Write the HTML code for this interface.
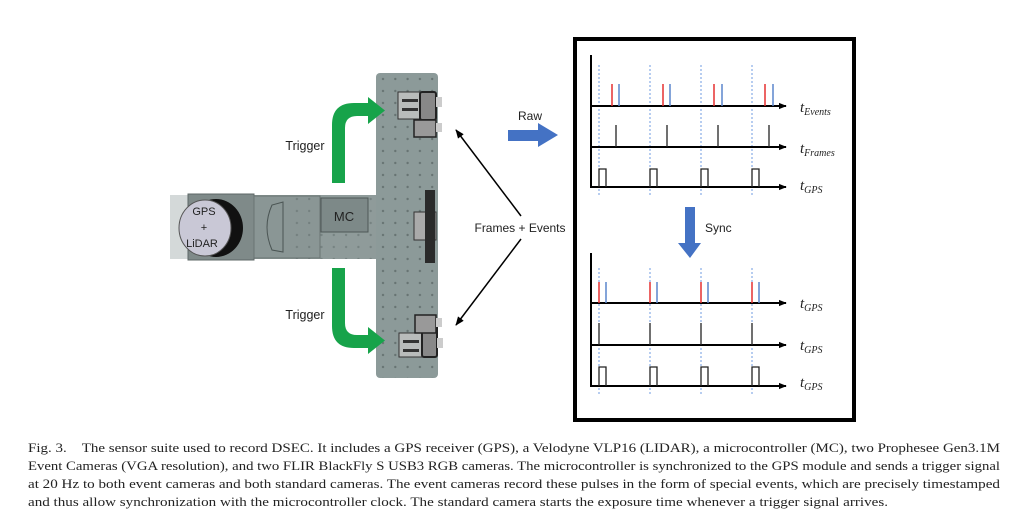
<!DOCTYPE html>
<html><head><meta charset="utf-8"><style>
html,body{margin:0;padding:0;background:#fff;}
svg{display:block;}
</style></head><body>
<svg width="1024" height="532" viewBox="0 0 1024 532" xmlns="http://www.w3.org/2000/svg">
<defs>
<pattern id="holes" x="377" y="73" width="12.3" height="12" patternUnits="userSpaceOnUse">
<circle cx="6" cy="6" r="1.2" fill="#5e6a69"/>
</pattern>
<marker id="ah" viewBox="0 0 10 10" refX="9" refY="5" markerWidth="6" markerHeight="6" orient="auto-start-reverse"><path d="M0,1 L10,5 L0,9 Z" fill="#000"/></marker>
<marker id="ax" viewBox="0 0 10 10" refX="9" refY="5" markerWidth="4" markerHeight="4" orient="auto"><path d="M0,1 L10,5 L0,9 Z" fill="#000"/></marker>
</defs>
<rect width="1024" height="532" fill="#fff"/>

<!-- hardware -->
<rect x="170" y="195" width="210" height="64" fill="#8f9b9a"/>
<rect x="170" y="195" width="20" height="64" fill="#d4d9d9"/>
<rect x="188" y="194" width="66" height="66" fill="#7f8a89" stroke="#5d6766" stroke-width="1"/>
<rect x="254" y="196" width="66" height="62" fill="#8a9695" stroke="#6a7473" stroke-width="1"/>
<path d="M272,205 Q262,227 272,250 L283,252 L283,202 Z" fill="none" stroke="#4a5453" stroke-width="1"/>
<rect x="376" y="73" width="62" height="305" rx="4" fill="#8c9a99"/>
<rect x="376" y="73" width="62" height="305" rx="4" fill="url(#holes)" opacity="0.8"/>
<rect x="290" y="195" width="90" height="64" fill="url(#holes)" opacity="0.5"/>
<rect x="321" y="198" width="47" height="34" fill="#7d8988" stroke="#4e5857" stroke-width="1"/>
<text x="344" y="221" font-family="Liberation Sans, sans-serif" font-size="13" text-anchor="middle" fill="#222">MC</text>
<ellipse cx="216" cy="228" rx="27" ry="29" fill="#111"/>
<ellipse cx="205" cy="228" rx="26" ry="28" fill="#c9c8d6" stroke="#555" stroke-width="1"/>
<text x="204" y="215" font-family="Liberation Sans, sans-serif" font-size="11" text-anchor="middle" fill="#222">GPS</text>
<text x="204" y="231" font-family="Liberation Sans, sans-serif" font-size="11" text-anchor="middle" fill="#222">+</text>
<text x="202" y="247" font-family="Liberation Sans, sans-serif" font-size="11" text-anchor="middle" fill="#222">LiDAR</text>
<!-- cameras -->
<rect x="398" y="92" width="24" height="27" fill="#b9bcbb" stroke="#333" stroke-width="1"/>
<rect x="402" y="99" width="16" height="3" fill="#333"/><rect x="402" y="108" width="16" height="3" fill="#333"/>
<rect x="420" y="92" width="16" height="28" rx="2" fill="#888" stroke="#222" stroke-width="2"/>
<rect x="436" y="97" width="6" height="10" fill="#ccc"/>
<rect x="414" y="120" width="22" height="17" fill="#999" stroke="#222" stroke-width="1.5"/>
<rect x="436" y="123" width="6" height="9" fill="#ccc"/>
<rect x="399" y="333" width="26" height="24" fill="#b9bcbb" stroke="#333" stroke-width="1"/>
<rect x="403" y="340" width="16" height="3" fill="#333"/><rect x="403" y="349" width="16" height="3" fill="#333"/>
<rect x="422" y="325" width="15" height="32" rx="2" fill="#888" stroke="#222" stroke-width="2"/>
<rect x="415" y="315" width="21" height="18" fill="#999" stroke="#222" stroke-width="1.5"/>
<rect x="436" y="318" width="6" height="9" fill="#ccc"/><rect x="437" y="338" width="6" height="10" fill="#ccc"/>
<rect x="414" y="212" width="22" height="28" fill="#aaa" stroke="#333" stroke-width="1"/>
<rect x="425" y="190" width="10" height="73" fill="#2a2a2a"/>

<!-- green arrows -->
<path d="M332,183 V125 Q332,103 354,103 H368 V97 L385,110.5 L368,124 V116 H357 Q345,116 345,128 V183 Z" fill="#17a34a"/>
<path d="M332,268 V326 Q332,348 354,348 H368 V354 L385,340.5 L368,327 V335 H357 Q345,335 345,323 V268 Z" fill="#17a34a"/>
<text x="305" y="150" font-family="Liberation Sans, sans-serif" font-size="12.5" text-anchor="middle" fill="#222">Trigger</text>
<text x="305" y="319" font-family="Liberation Sans, sans-serif" font-size="12.5" text-anchor="middle" fill="#222">Trigger</text>

<!-- frames + events -->
<line x1="521" y1="216" x2="456" y2="130" stroke="#000" stroke-width="1.5" marker-end="url(#ah)"/>
<line x1="521" y1="239" x2="456" y2="325" stroke="#000" stroke-width="1.5" marker-end="url(#ah)"/>
<text x="520" y="232" font-family="Liberation Sans, sans-serif" font-size="12" text-anchor="middle" fill="#222">Frames + Events</text>
<text x="530" y="120" font-family="Liberation Sans, sans-serif" font-size="12" text-anchor="middle" fill="#222">Raw</text>
<path d="M508,130 H538 V123 L558,135 L538,147 V141 H508 Z" fill="#4472c4"/>
<path d="M685,207 H695 V243 H701 L690,258 L678,243 H685 Z" fill="#4472c4"/>
<text x="705" y="232" font-family="Liberation Sans, sans-serif" font-size="12" fill="#222">Sync</text>

<!-- box -->
<rect x="575" y="39" width="279" height="381" fill="none" stroke="#000" stroke-width="4"/>

<g stroke="#6f9be0" stroke-width="1" stroke-dasharray="2,2">
<line x1="599" y1="65" x2="599" y2="195"/><line x1="650" y1="65" x2="650" y2="195"/>
<line x1="701" y1="65" x2="701" y2="195"/><line x1="752" y1="65" x2="752" y2="195"/>
<line x1="599" y1="268" x2="599" y2="396"/><line x1="650" y1="268" x2="650" y2="396"/>
<line x1="701" y1="268" x2="701" y2="396"/><line x1="752" y1="268" x2="752" y2="396"/>
</g>
<g stroke="#000" stroke-width="2">
<line x1="591" y1="55" x2="591" y2="188"/>
<line x1="591" y1="253" x2="591" y2="387"/>
</g>
<g stroke="#000" stroke-width="2" marker-end="url(#ax)">
<line x1="590" y1="106" x2="786" y2="106"/>
<line x1="590" y1="147" x2="786" y2="147"/>
<line x1="590" y1="187" x2="786" y2="187"/>
<line x1="590" y1="303" x2="786" y2="303"/>
<line x1="590" y1="345" x2="786" y2="345"/>
<line x1="590" y1="386" x2="786" y2="386"/>
</g>
<g stroke="#e53030" stroke-width="1.5">
<line x1="612" y1="84" x2="612" y2="106"/><line x1="663" y1="84" x2="663" y2="106"/>
<line x1="714" y1="84" x2="714" y2="106"/><line x1="765" y1="84" x2="765" y2="106"/>
<line x1="599" y1="282" x2="599" y2="303"/><line x1="650" y1="282" x2="650" y2="303"/>
<line x1="701" y1="282" x2="701" y2="303"/><line x1="752" y1="282" x2="752" y2="303"/>
</g>
<g stroke="#5b86cc" stroke-width="1.5">
<line x1="619" y1="84" x2="619" y2="106"/><line x1="670" y1="84" x2="670" y2="106"/>
<line x1="722" y1="84" x2="722" y2="106"/><line x1="773" y1="84" x2="773" y2="106"/>
<line x1="606" y1="282" x2="606" y2="303"/><line x1="657" y1="282" x2="657" y2="303"/>
<line x1="708" y1="282" x2="708" y2="303"/><line x1="759" y1="282" x2="759" y2="303"/>
</g>
<g stroke="#222" stroke-width="1.3" fill="none">
<line x1="616" y1="125" x2="616" y2="147"/><line x1="667" y1="125" x2="667" y2="147"/>
<line x1="718" y1="125" x2="718" y2="147"/><line x1="769" y1="125" x2="769" y2="147"/>
<line x1="599" y1="323" x2="599" y2="345"/><line x1="650" y1="323" x2="650" y2="345"/>
<line x1="701" y1="323" x2="701" y2="345"/><line x1="752" y1="323" x2="752" y2="345"/>
<path d="M599,187 V169 H606 V187 M650,187 V169 H657 V187 M701,187 V169 H708 V187 M752,187 V169 H759 V187"/>
<path d="M599,386 V367 H606 V386 M650,386 V367 H657 V386 M701,386 V367 H708 V386 M752,386 V367 H759 V386"/>
</g>
<g font-family="Liberation Serif, serif" font-style="italic" fill="#222">
<text x="800" y="112" font-size="15">t<tspan font-size="10" dy="3">Events</tspan></text>
<text x="800" y="153" font-size="15">t<tspan font-size="10" dy="3">Frames</tspan></text>
<text x="800" y="190" font-size="15">t<tspan font-size="10" dy="3">GPS</tspan></text>
<text x="800" y="308" font-size="15">t<tspan font-size="10" dy="3">GPS</tspan></text>
<text x="800" y="350" font-size="15">t<tspan font-size="10" dy="3">GPS</tspan></text>
<text x="800" y="387" font-size="15">t<tspan font-size="10" dy="3">GPS</tspan></text>
</g>

<!-- caption -->
<g font-family="Liberation Serif, serif" font-size="13" fill="#222">
<text x="28" y="452" textLength="972" lengthAdjust="spacingAndGlyphs">Fig. 3.&#160;&#160;&#160;&#160;The sensor suite used to record DSEC. It includes a GPS receiver (GPS), a Velodyne VLP16 (LIDAR), a microcontroller (MC), two Prophesee Gen3.1M</text>
<text x="28" y="470" textLength="972" lengthAdjust="spacingAndGlyphs">Event Cameras (VGA resolution), and two FLIR BlackFly S USB3 RGB cameras. The microcontroller is synchronized to the GPS module and sends a trigger signal</text>
<text x="28" y="488" textLength="972" lengthAdjust="spacingAndGlyphs">at 20 Hz to both event cameras and both standard cameras. The event cameras record these pulses in the form of special events, which are precisely timestamped</text>
<text x="28" y="506" textLength="860" lengthAdjust="spacingAndGlyphs">and thus allow synchronization with the microcontroller clock. The standard camera starts the exposure time whenever a trigger signal arrives.</text>
</g>
</svg>
</body></html>
